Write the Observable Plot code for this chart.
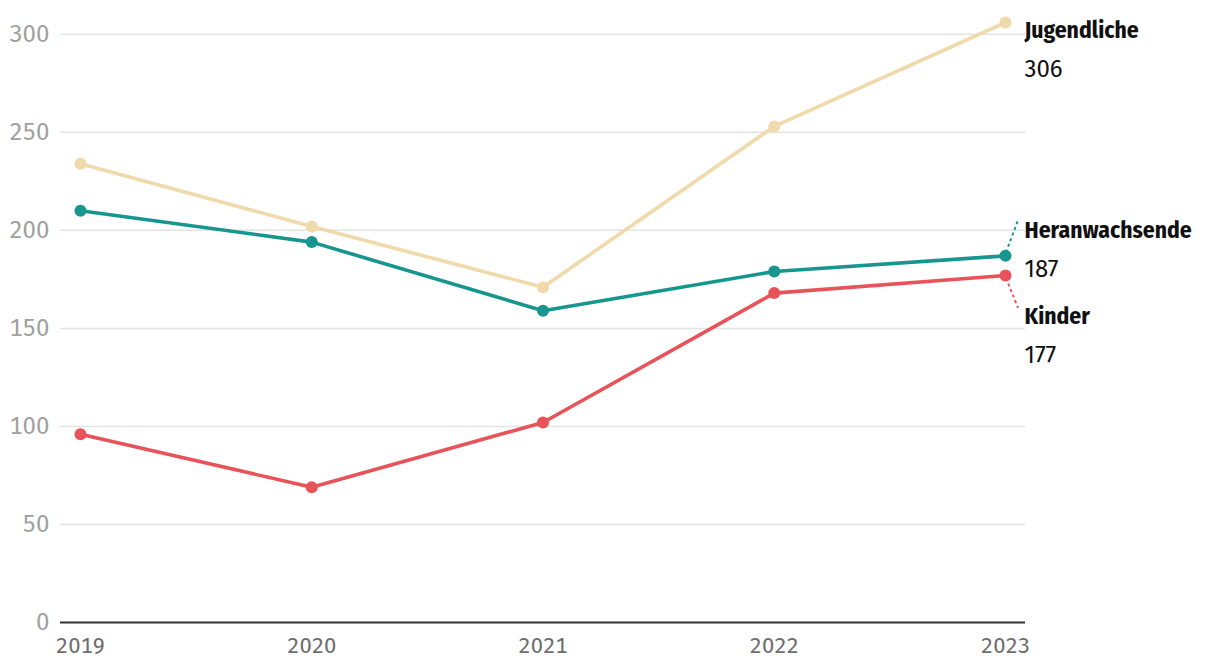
<!DOCTYPE html>
<html>
<head>
<meta charset="utf-8">
<script src="https://cdn.jsdelivr.net/npm/d3@7"></script>
<script src="https://cdn.jsdelivr.net/npm/@observablehq/plot@0.6"></script>
<style>
  html, body { margin: 0; padding: 0; background: #fff; }
  #chart svg { display: block; }
</style>
</head>
<body>
<div id="chart"></div>
<script>
const years = [2019, 2020, 2021, 2022, 2023];
const seriesNames = ["Jugendliche", "Heranwachsende", "Kinder"];
const jugendliche = [234, 202, 171, 253, 306];
const heranwachsende = [210, 194, 159, 179, 187];
const kinder = [96, 69, 102, 168, 177];
const yTicks = [0, 50, 100, 150, 200, 250, 300];

const colors = {Jugendliche: "#f0d9aa", Heranwachsende: "#17958f", Kinder: "#e8535a"};
// label offsets (px) relative to last point: [name dy, value dy]
const labelOffsets = {Jugendliche: [8, 47], Heranwachsende: [-25, 13], Kinder: [41, 80]};

const valuesBySeries = {Jugendliche: jugendliche, Heranwachsende: heranwachsende, Kinder: kinder};
const data = seriesNames.flatMap(s => years.map((y, i) => ({series: s, year: y, value: valuesBySeries[s][i]})));
const last = seriesNames.map(s => ({series: s, year: years[years.length - 1], value: valuesBySeries[s][years.length - 1]}));

const font = "'Fira Sans', 'Open Sans', 'Noto Sans', sans-serif";
const condFont = "'Fira Sans Condensed', 'Liberation Sans Narrow', 'DejaVu Sans Condensed', Roboto, sans-serif";

const labelMarks = last.flatMap(d => {
  const [dn, dv] = labelOffsets[d.series];
  return [
    Plot.text([d], {x: "year", y: "value", text: "series", dx: 19, dy: dn, textAnchor: "start",
      fontWeight: "bold", fontSize: 23.5, fill: "#111", fontFamily: condFont}),
    Plot.text([d], {x: "year", y: "value", text: d => String(d.value), dx: 19, dy: dv, textAnchor: "start",
      fontSize: 24, fill: "#111", fontFamily: font})
  ];
});

const leaderData = last.filter(d => Math.abs(labelOffsets[d.series][0]) > 15);
// dashed leader lines for labels that are displaced from their point
const leaders = Plot.dot(leaderData, {
  x: "year", y: "value", r: 0,
  render(index, scales, values, dims, context, next) {
    const g = d3.create("svg:g");
    for (const i of index) {
      const d = leaderData[i];
      const x0 = scales.x(d.year), y0 = scales.y(d.value);
      const dn = labelOffsets[d.series][0];
      const y1 = y0 + (dn < 0 ? dn - 10 : dn - 8);
      g.append("line").attr("x1", x0 + 1).attr("y1", y0 + (dn < 0 ? -3 : 3))
        .attr("x2", x0 + 13).attr("y2", y1)
        .attr("stroke", colors[d.series]).attr("stroke-width", 2).attr("stroke-dasharray", "3,3");
    }
    return g.node();
  }
});

const plot = Plot.plot({
  width: 1220,
  height: 672,
  marginLeft: 60,
  marginRight: 195,
  marginTop: 22,
  marginBottom: 50,
  insetLeft: 20,
  insetRight: 20,
  style: {fontFamily: font, background: "#fff"},
  x: {domain: [2019, 2023], ticks: years, tickFormat: d => String(d), tickSize: 0, label: null},
  y: {domain: [0, 306], ticks: yTicks, tickSize: 0, label: null},
  marks: [
    Plot.gridY(yTicks.filter(t => t > 0), {stroke: "#e3e3e3", strokeOpacity: 1, strokeWidth: 1.5}),
    Plot.axisY({ticks: yTicks, tickSize: 0, tickPadding: 11, fontSize: 24, fill: "#a0a0a0", label: null}),
    Plot.axisX({ticks: years, tickFormat: d => String(d), tickSize: 0, tickPadding: 15, fontSize: 22, fill: "#6e6e6e", label: null}),
    Plot.ruleY([0], {stroke: "#333", strokeWidth: 2}),
    leaders,
    Plot.line(data, {x: "year", y: "value", z: "series", stroke: d => colors[d.series], strokeWidth: 3.6}),
    Plot.dot(data, {x: "year", y: "value", fill: d => colors[d.series], r: 6}),
    ...labelMarks
  ]
});
document.getElementById("chart").appendChild(plot);
</script>
</body>
</html>
